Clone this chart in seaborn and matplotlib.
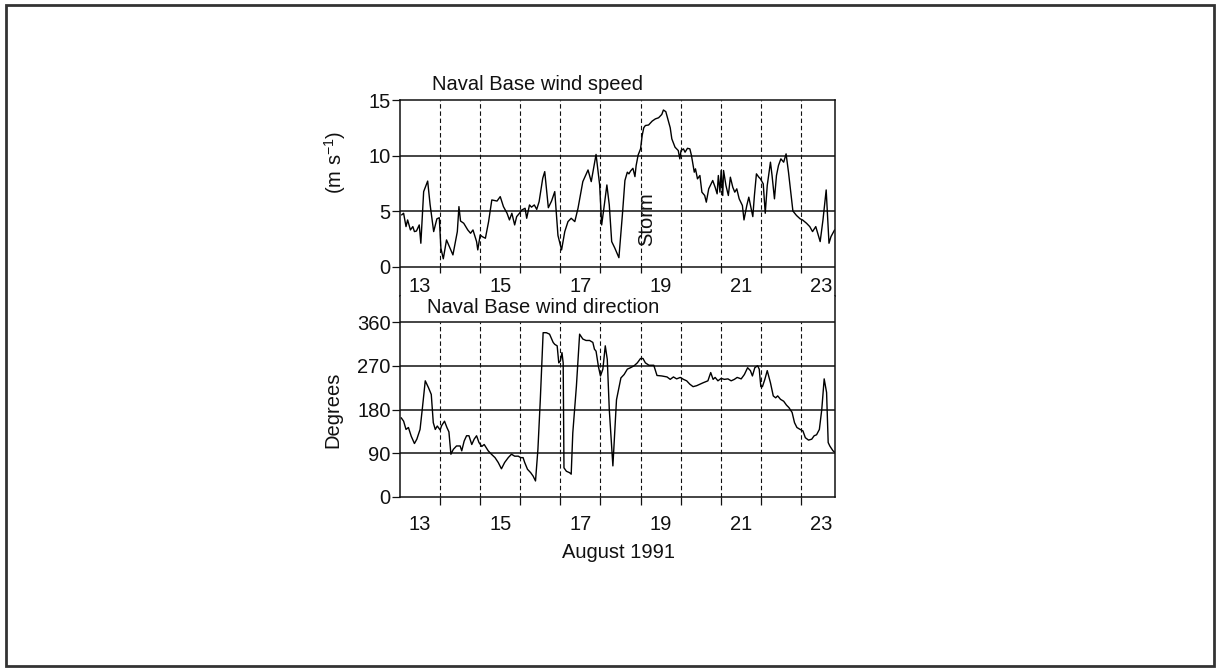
import numpy as np
import pandas as pd
import matplotlib
matplotlib.use('Agg')
import matplotlib.pyplot as plt
import seaborn as sns
from matplotlib.patches import Rectangle

# ---------------- data ----------------
speed_day = [13.04, 13.09, 13.15, 13.19, 13.26, 13.32, 13.36, 13.41, 13.48, 13.52, 13.59, 13.69, 13.75,
             13.84, 13.92, 13.98, 14.02, 14.08, 14.16, 14.25, 14.32, 14.43, 14.47, 14.51, 14.59, 14.69,
             14.76, 14.82, 14.91, 14.94, 15.00, 15.05, 15.13, 15.21, 15.29, 15.42, 15.50, 15.58, 15.67,
             15.73, 15.79, 15.86, 15.91, 15.98, 16.04, 16.12, 16.16, 16.23, 16.28, 16.35, 16.41, 16.47,
             16.56, 16.61, 16.70, 16.78, 16.86, 16.94, 17.03, 17.11, 17.19, 17.27, 17.36, 17.44, 17.56,
             17.69, 17.77, 17.83, 17.89, 17.98, 18.03, 18.08, 18.16, 18.22, 18.28, 18.36, 18.46, 18.55,
             18.61, 18.67, 18.71, 18.75, 18.81, 18.86, 18.89, 18.94, 19.00, 19.04, 19.08, 19.12, 19.20,
             19.29, 19.37, 19.45, 19.53, 19.57, 19.63, 19.68, 19.74, 19.78, 19.86, 19.94, 19.98, 20.01,
             20.07, 20.11, 20.17, 20.23, 20.27, 20.34, 20.37, 20.42, 20.48, 20.53, 20.60, 20.64, 20.70,
             20.76, 20.80, 20.86, 20.91, 20.94, 20.98, 21.01, 21.05, 21.07, 21.13, 21.19, 21.24, 21.30,
             21.35, 21.40, 21.46, 21.54, 21.58, 21.65, 21.70, 21.75, 21.80, 21.84, 21.89, 21.95, 21.99,
             22.06, 22.11, 22.16, 22.24, 22.28, 22.34, 22.39, 22.44, 22.50, 22.57, 22.63, 22.69, 22.80,
             22.89, 22.98, 23.04, 23.14, 23.22, 23.29, 23.37, 23.43, 23.48, 23.55, 23.63, 23.70, 23.75,
             23.84]
speed_ms = [4.65, 4.8, 3.6, 4.2, 3.3, 3.6, 3.15, 3.2, 3.75, 2.1, 6.75, 7.7, 5.6,
            3.15, 4.3, 4.4, 1.65, 0.7, 2.4, 1.65, 1.05, 3.15, 5.4, 4.1, 3.9, 3.3,
            3.0, 3.3, 2.25, 1.5, 2.85, 2.7, 2.55, 4.05, 6.0, 5.9, 6.3, 5.4, 4.8,
            4.2, 4.8, 3.75, 4.5, 4.8, 5.1, 5.25, 4.35, 5.55, 5.35, 5.55, 5.15, 5.85,
            7.95, 8.55, 5.3, 5.9, 6.75, 2.8, 1.5, 3.15, 4.05, 4.35, 4.05, 5.25, 7.65,
            8.7, 7.65, 8.85, 10.1, 7.35, 3.75, 5.1, 7.35, 5.55, 2.25, 1.65, 0.8, 4.8,
            7.75, 8.5, 8.35, 8.6, 8.85, 8.1, 9.1, 10.05, 10.6, 11.8, 12.5, 12.7, 12.75,
            13.1, 13.3, 13.4, 13.7, 14.1, 13.95, 13.3, 12.5, 11.5, 10.75, 10.45, 9.7, 10.45,
            10.6, 10.3, 10.65, 10.6, 10.0, 8.5, 8.8, 7.9, 8.2, 6.7, 6.4, 5.8, 7.0,
            7.45, 7.75, 7.15, 6.55, 8.2, 6.7, 8.65, 6.4, 8.65, 7.3, 6.4, 8.05, 7.15,
            6.7, 7.0, 6.1, 5.5, 4.2, 5.5, 6.25, 5.35, 4.5, 6.4, 8.35, 8.05, 7.9,
            7.45, 4.8, 7.3, 9.4, 8.2, 6.1, 8.2, 9.1, 9.7, 9.4, 10.15, 8.5, 5.0,
            4.6, 4.3, 4.2, 3.9, 3.6, 3.15, 3.6, 2.85, 2.25, 4.2, 6.9, 2.1, 2.7,
            3.3]

dir_day = [13.03, 13.09, 13.15, 13.21, 13.28, 13.36, 13.42, 13.50, 13.56, 13.63, 13.71, 13.78, 13.83,
           13.88, 13.93, 14.00, 14.04, 14.11, 14.17, 14.22, 14.27, 14.33, 14.41, 14.50, 14.54, 14.60,
           14.66, 14.72, 14.79, 14.85, 14.91, 14.97, 15.04, 15.10, 15.20, 15.28, 15.37, 15.45, 15.53,
           15.61, 15.70, 15.78, 15.86, 15.95, 16.01, 16.07, 16.11, 16.18, 16.26, 16.32, 16.38, 16.44,
           16.50, 16.57, 16.65, 16.73, 16.82, 16.86, 16.92, 16.96, 17.00, 17.04, 17.07, 17.09, 17.15,
           17.23, 17.27, 17.31, 17.40, 17.48, 17.56, 17.64, 17.73, 17.81, 17.85, 17.89, 17.95, 18.00,
           18.06, 18.12, 18.17, 18.22, 18.31, 18.40, 18.51, 18.59, 18.67, 18.75, 18.84, 18.92, 19.00,
           19.06, 19.12, 19.21, 19.33, 19.41, 19.53, 19.66, 19.74, 19.82, 19.90, 19.99, 20.07, 20.15,
           20.23, 20.31, 20.40, 20.48, 20.56, 20.68, 20.75, 20.81, 20.86, 20.93, 21.01, 21.09, 21.18,
           21.26, 21.34, 21.41, 21.51, 21.59, 21.67, 21.74, 21.79, 21.85, 21.92, 21.96, 22.00, 22.04,
           22.10, 22.16, 22.24, 22.31, 22.37, 22.42, 22.49, 22.57, 22.64, 22.70, 22.78, 22.84, 22.90,
           22.98, 23.05, 23.11, 23.19, 23.27, 23.33, 23.39, 23.46, 23.52, 23.58, 23.64, 23.68, 23.72,
           23.80, 23.86]
dir_deg = [163, 156, 139, 143, 125, 110, 119, 139, 184, 239, 225, 211, 153,
           139, 146, 138, 147, 156, 143, 134, 88, 98, 105, 105, 95, 115,
           126, 126, 108, 119, 126, 112, 104, 108, 95, 88, 81, 71, 58,
           71, 81, 88, 84, 84, 81, 81, 71, 57, 50, 43, 33, 98,
           201, 338, 338, 335, 318, 314, 311, 276, 280, 297, 276, 60, 53,
           50, 47, 132, 228, 335, 325, 322, 322, 318, 304, 300, 268, 249,
           263, 311, 283, 180, 64, 200, 245, 252, 263, 266, 270, 276, 285,
           285, 276, 271, 271, 250, 249, 247, 242, 247, 243, 246, 242, 239,
           232, 227, 229, 232, 235, 239, 256, 242, 246, 239, 244, 242, 243,
           239, 242, 246, 243, 252, 266, 260, 249, 266, 270, 263, 227, 227,
           242, 260, 235, 208, 204, 208, 201, 197, 189, 184, 174, 153, 143,
           139, 136, 122, 117, 119, 126, 128, 139, 180, 243, 215, 112, 105,
           95, 91]

day_boundaries = [14, 15, 16, 17, 18, 19, 20, 21, 22, 23]
label_pos = [13.5, 15.5, 17.5, 19.5, 21.5, 23.5]
label_txt = ['13', '15', '17', '19', '21', '23']
speed_ticks = [0, 5, 10, 15]
speed_grid = [0, 5, 10]
dir_ticks = [0, 90, 180, 270, 360]
dir_grid = [90, 180, 270, 360]

# ---------------- style ----------------
sns.set_style('white')
plt.rcParams['font.family'] = ['Liberation Sans', 'DejaVu Sans']
plt.rcParams['mathtext.fontset'] = 'custom'
plt.rcParams['mathtext.rm'] = 'Liberation Sans'
plt.rcParams['mathtext.it'] = 'Liberation Sans:italic'
plt.rcParams['mathtext.bf'] = 'Liberation Sans:bold'

INK = '#111111'
FS = 14.5
W, H = 1221, 672


def fx(px):
    return px / W


def fy(py):
    return 1 - py / H


fig = plt.figure(figsize=(W / 100, H / 100), dpi=100)
fig.patch.set_facecolor('white')

L, R = 400, 835
ax1 = fig.add_axes([fx(L), fy(296), fx(R) - fx(L), fy(100) - fy(296)])
ax2 = fig.add_axes([fx(L), fy(497), fx(R) - fx(L), fy(296) - fy(497)])

XL = (13.0, 23.85)

# ----- top panel: wind speed -----
sns.lineplot(x=speed_day, y=speed_ms, ax=ax1, color='black', linewidth=1.0,
             estimator=None, sort=False)
ax1.set_xlim(*XL)
ax1.set_ylim(-2.65, 15)
ax1.hlines(speed_grid, XL[0], XL[1], colors=INK, linewidth=1.1, zorder=1)
ax1.vlines(day_boundaries, 0, 15, colors=INK, linewidth=0.8,
           linestyles=(0, (4, 2.5)), zorder=1)
ax1.vlines(day_boundaries, -0.6, 0, colors=INK, linewidth=0.9, zorder=1)
ax1.set_yticks(speed_ticks)
ax1.set_yticklabels([str(v) for v in speed_ticks])
ax1.set_xticks(label_pos)
ax1.set_xticklabels(label_txt)
ax1.tick_params(axis='y', direction='out', length=5.8, width=0.9, pad=1,
                labelsize=FS, colors=INK, left=True)
ax1.tick_params(axis='x', length=0, pad=-13.7, labelsize=FS, colors=INK)
ax1.spines['bottom'].set_visible(False)
for s in ['left', 'right', 'top']:
    ax1.spines[s].set_color(INK)
    ax1.spines[s].set_linewidth(1.1)
ax1.set_xlabel('')
ax1.set_ylabel('')
ax1.text(19.14, 4.3, 'Storm', rotation=90, ha='center', va='center',
         fontsize=FS, color=INK)

# ----- bottom panel: wind direction -----
sns.lineplot(x=dir_day, y=dir_deg, ax=ax2, color='black', linewidth=1.0,
             estimator=None, sort=False)
ax2.set_xlim(*XL)
ax2.set_ylim(0, 413.5)
ax2.hlines(dir_grid, XL[0], XL[1], colors=INK, linewidth=1.1, zorder=1)
ax2.vlines(day_boundaries, 0, 360, colors=INK, linewidth=0.8,
           linestyles=(0, (4, 2.5)), zorder=1)
ax2.set_yticks(dir_ticks)
ax2.set_yticklabels([str(v) for v in dir_ticks])
ax2.set_xticks(day_boundaries)
ax2.set_xticklabels([''] * len(day_boundaries))
ax2.set_xticks(label_pos, minor=True)
ax2.set_xticklabels(label_txt, minor=True)
ax2.tick_params(axis='y', direction='out', length=5.8, width=0.9, pad=1,
                labelsize=FS, colors=INK, left=True)
ax2.tick_params(axis='x', which='major', direction='out', length=5.8, width=0.9,
                colors=INK, bottom=True)
ax2.tick_params(axis='x', which='minor', length=0, pad=13, labelsize=FS,
                colors=INK, bottom=True)
ax2.spines['top'].set_visible(False)
for s in ['left', 'right', 'bottom']:
    ax2.spines[s].set_color(INK)
    ax2.spines[s].set_linewidth(1.1)
ax2.set_xlabel('')
ax2.set_ylabel('')

# ----- labels and titles -----
fig.text(fx(432), fy(85), 'Naval Base wind speed', ha='left', va='center',
         fontsize=FS, color=INK)
fig.text(fx(427), fy(308), 'Naval Base wind direction', ha='left', va='center',
         fontsize=FS, color=INK)
fig.text(fx(335), fy(162), '(m s$^{\\mathregular{-1}}$)', rotation=90,
         ha='center', va='center', fontsize=FS, color=INK)
fig.text(fx(333), fy(410), 'Degrees', rotation=90, ha='center', va='center',
         fontsize=FS, color=INK)
fig.text(fx(618), fy(553), 'August 1991', ha='center', va='center',
         fontsize=FS, color=INK)

# outer frame of the figure
fig.add_artist(Rectangle((fx(6), fy(666)), fx(1214) - fx(6), fy(5) - fy(666),
                         transform=fig.transFigure, fill=False,
                         linewidth=2.0, edgecolor='#333333'))

fig.savefig('out.png', dpi=100, facecolor='white')
